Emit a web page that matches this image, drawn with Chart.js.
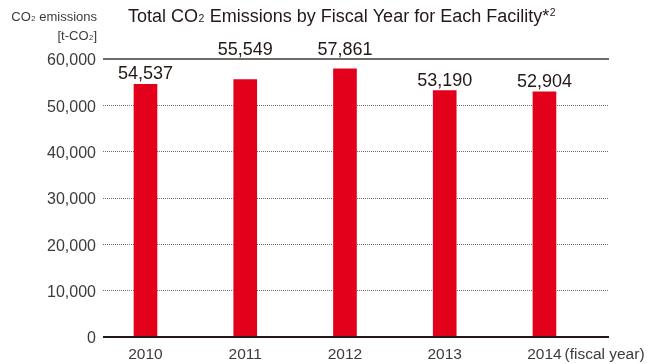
<!DOCTYPE html>
<html>
<head>
<meta charset="utf-8">
<script src="https://cdn.jsdelivr.net/npm/chart.js@4/dist/chart.umd.min.js"></script>
<style>
  html, body { margin: 0; padding: 0; background: #fff; }
  #wrap { width: 659px; height: 364px; position: relative; }
</style>
</head>
<body>
<div id="wrap"><canvas id="c" width="659" height="364"></canvas></div>
<script>
const years = [2010, 2011, 2012, 2013, 2014];
const emissions = [54537, 55549, 57861, 53190, 52904];
const yMin = 0;
const yMax = 60000;
const yStep = 10000;
const titleParts = [["Total CO", "n"], ["2", "sub"], [" Emissions by Fiscal Year for Each Facility*", "n"], ["2", "sup"]];
const yTitle1 = [["CO", "n"], ["2", "sub"], [" emissions", "n"]];
const yTitle2 = [["[t-CO", "n"], ["2", "sub"], ["]", "n"]];
const xUnit = "(fiscal year)";

const FF = "'Liberation Sans', Arial, Helvetica, sans-serif";
const DARK = '#231815';
const GREY = '#3e3a39';

function drawParts(ctx, parts, x, y, size, color, align) {
  ctx.save();
  ctx.fillStyle = color;
  ctx.textBaseline = 'alphabetic';
  ctx.textAlign = 'left';
  const small = size * 0.58;
  const widths = parts.map(p => {
    ctx.font = (p[1] === 'n' ? size : small) + 'px ' + FF;
    return ctx.measureText(p[0]).width + (p[1] === 'n' ? 0 : size * 0.05);
  });
  const total = widths.reduce((a, b) => a + b, 0);
  let cx = align === 'right' ? x - total : x;
  parts.forEach((p, i) => {
    let dy = 0;
    if (p[1] === 'sub') dy = size * 0.02;
    if (p[1] === 'sup') dy = -size * 0.33;
    ctx.font = (p[1] === 'n' ? size : small) + 'px ' + FF;
    ctx.fillText(p[0], cx + (p[1] === 'n' ? 0 : size * 0.03), y + dy);
    cx += widths[i];
  });
  ctx.restore();
}

const overlay = {
  id: 'overlay',
  afterDatasetsDraw(chart) {
    const ctx = chart.ctx;
    const ca = chart.chartArea;
    const ys = chart.scales.y;
    const xs = chart.scales.x;
    const topY = ys.getPixelForValue(yMax);
    ctx.save();
    ctx.strokeStyle = GREY;
    ctx.lineWidth = 1.3;
    ctx.beginPath();
    ctx.moveTo(ca.left, topY);
    ctx.lineTo(ca.right, topY);
    ctx.stroke();
    const zeroY = ys.getPixelForValue(0);
    ctx.lineWidth = 2;
    ctx.strokeStyle = DARK;
    ctx.beginPath();
    ctx.moveTo(ca.left, zeroY);
    ctx.lineTo(ca.right, zeroY);
    ctx.stroke();
    const meta = chart.getDatasetMeta(0);
    ctx.fillStyle = DARK;
    ctx.font = '18px ' + FF;
    ctx.textAlign = 'center';
    ctx.textBaseline = 'alphabetic';
    meta.data.forEach((el, i) => {
      let base = el.y - 5;
      if (base - 13 < topY + 6) base = topY - 4;
      ctx.fillText(emissions[i].toLocaleString('en-US'), el.x, base);
    });
    ctx.restore();
    drawParts(ctx, titleParts, 128, 22, 18, DARK, 'left');
    drawParts(ctx, yTitle1, 97, 21, 13, GREY, 'right');
    drawParts(ctx, yTitle2, 97, 40, 13, GREY, 'right');
    ctx.save();
    ctx.fillStyle = GREY;
    ctx.font = '15.5px ' + FF;
    ctx.textAlign = 'left';
    ctx.textBaseline = 'alphabetic';
    ctx.fillText(xUnit, xs.getPixelForValue(years[years.length - 1]) + 20, 359);
    ctx.restore();
  }
};

new Chart(document.getElementById('c'), {
  type: 'bar',
  data: {
    datasets: [{
      data: years.map((yr, i) => ({ x: yr, y: emissions[i] })),
      backgroundColor: '#e2001a',
      borderWidth: 0,
      barThickness: 23
    }]
  },
  options: {
    responsive: false,
    animation: false,
    devicePixelRatio: 1,
    layout: { padding: { top: 59, right: 50, left: 0, bottom: 0 } },
    plugins: { legend: { display: false }, tooltip: { enabled: false }, title: { display: false } },
    scales: {
      x: {
        type: 'linear',
        offset: false,
        min: 2009.574,
        max: 2014.647,
        afterFit(s) { s.height = 27; },
        grid: { display: false, drawTicks: false, offset: false },
        border: { display: false },
        ticks: {
          stepSize: 1,
          includeBounds: false,
          autoSkip: false,
          maxRotation: 0,
          padding: 8,
          color: GREY,
          font: { family: FF, size: 15.5 },
          callback: v => String(v)
        }
      },
      y: {
        min: yMin,
        max: yMax,
        afterFit(s) { s.width = 103; },
        grid: {
          drawTicks: false,
          lineWidth: 1,
          color: c => (c.tick && (c.tick.value === yMax || c.tick.value === yMin)) ? 'rgba(0,0,0,0)' : '#6f6f6f'
        },
        border: { display: false, dash: [1, 1] },
        ticks: {
          stepSize: yStep,
          padding: 7,
          labelOffset: 2,
          color: GREY,
          font: { family: FF, size: 16 },
          callback: v => v.toLocaleString('en-US')
        }
      }
    }
  },
  plugins: [overlay]
});
</script>
</body>
</html>
